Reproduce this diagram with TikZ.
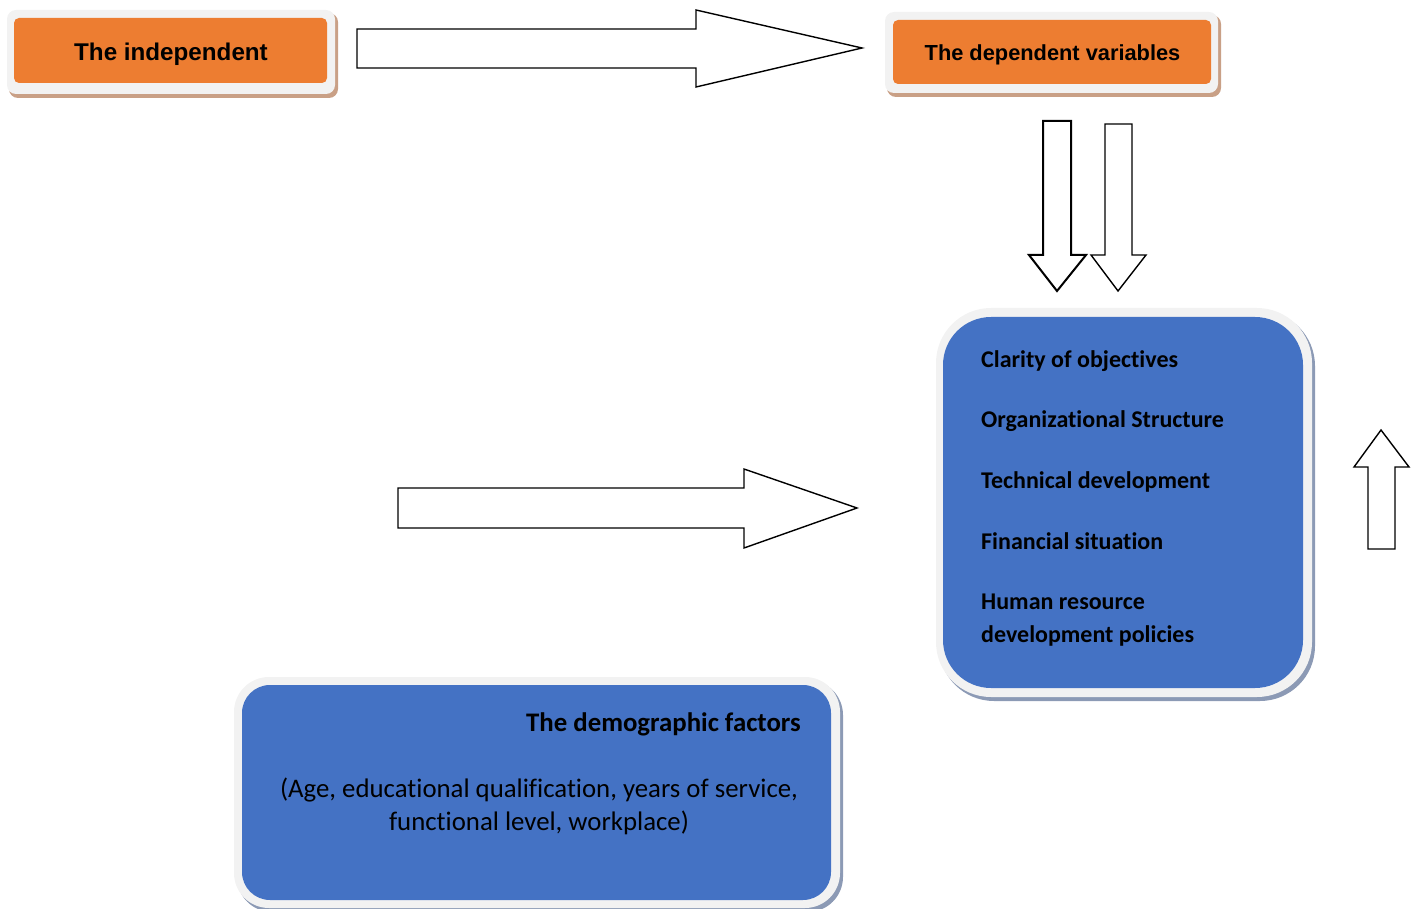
\documentclass[tikz,border=0pt]{standalone}
\usepackage{fontspec}
\setmainfont[Ligatures=NoCommon]{Carlito}
\newfontfamily\arialf{Liberation Sans}
\definecolor{orangefill}{HTML}{ED7D31}
\definecolor{bluefill}{HTML}{4472C4}
\definecolor{framegray}{HTML}{F2F2F2}
\definecolor{orshadow}{HTML}{C9A086}
\definecolor{blshadow}{HTML}{8C9AB5}
\tikzset{
  obox/.style={fill=orangefill, draw=none, rounded corners=5pt, inner sep=0pt},
  otext/.style={inner sep=0pt, text=black},
  oframe/.style={fill=framegray, draw=none, rounded corners=9pt},
  oshadow/.style={fill=orshadow, draw=none, rounded corners=9pt},
  bshadow/.style={fill=blshadow, draw=none},
  bframe/.style={fill=framegray, draw=none},
  bfill/.style={fill=bluefill, draw=none},
  item/.style={anchor=west, inner sep=0pt, font=\bfseries\fontsize{24}{33}\selectfont, align=left},
  blockarrow/.style={draw=black, fill=white, line width=1.4pt, line join=miter},
}
\begin{document}
\begin{tikzpicture}[x=1pt,y=-1pt]
\useasboundingbox (0,0) rectangle (1414,909);
% orange box 1
\fill[oshadow] (9,13) rectangle (338,98);
\fill[oframe] (7,10) rectangle (335,94);
\node[obox, minimum width=313pt, minimum height=65pt] (indepbox) at (170.5,50.5) {};
\node[otext, font=\arialf\bfseries\fontsize{24.2}{29}\selectfont] (indep) at (171,54.5) {The independent};
% orange box 2
\fill[oshadow] (887,15) rectangle (1221,97);
\fill[oframe] (885,12) rectangle (1218,93);
\node[obox, minimum width=318pt, minimum height=64pt] (depbox) at (1052,52) {};
\node[otext, font=\arialf\bfseries\fontsize{21.8}{26}\selectfont] (dep) at (1052.5,55) {The dependent variables};
% blue box 1
\fill[bshadow, rounded corners=55pt] (939,311) rectangle (1315,701);
\fill[bframe, rounded corners=55pt] (936,308) rectangle (1312,697);
\fill[bfill, rounded corners=48pt] (943,317) rectangle (1303,688);
\node[item] (c1) at (981,361) {Clarity of objectives};
\node[item] (c2) at (981,421) {Organizational Structure};
\node[item] (c3) at (981,482) {Technical development};
\node[item] (c4) at (981,541) {Financial situation};
\node[item] (c5) at (981,620) {Human resource\\development policies};
% blue box 2
\fill[bshadow, rounded corners=35pt] (237,680) rectangle (843,912);
\fill[bframe, rounded corners=35pt] (234,677) rectangle (840,908);
\fill[bfill, rounded corners=28pt] (242,685) rectangle (831,900);
\node[anchor=east, inner sep=0pt, font=\bfseries\fontsize{26.8}{32}\selectfont] (demo) at (801,724) {The demographic factors};
\node[align=center, inner sep=0pt, font=\fontsize{26.8}{33}\selectfont] (demolist) at (539,806) {(Age, educational qualification, years of service,\\functional level, workplace)};
% block arrows
\draw[blockarrow] (357,29) -- (696,29) -- (696,10) -- (862,48) -- (696,87) -- (696,68) -- (357,68) -- cycle;
\draw[blockarrow] (398,488) -- (744,488) -- (744,469) -- (857,508) -- (744,548) -- (744,528) -- (398,528) -- cycle;
\draw[blockarrow, line width=2pt] (1043,121) -- (1071,121) -- (1071,255) -- (1086,255) -- (1057,291) -- (1029,255) -- (1043,255) -- cycle;
\draw[blockarrow] (1105,124) -- (1132,124) -- (1132,255) -- (1146,255) -- (1118,291) -- (1091,255) -- (1105,255) -- cycle;
\draw[blockarrow] (1368,549) -- (1395,549) -- (1395,467) -- (1409,467) -- (1381,430) -- (1354,467) -- (1368,467) -- cycle;
\end{tikzpicture}
\end{document}
